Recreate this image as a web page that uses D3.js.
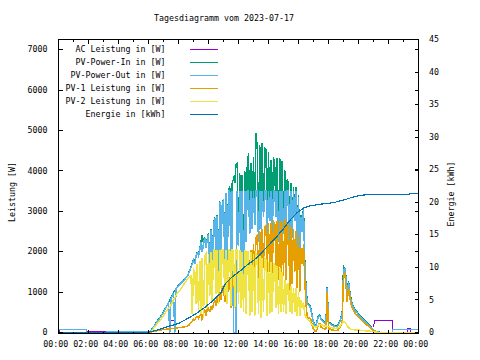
<!DOCTYPE html>
<html><head><meta charset="utf-8">
<script src="https://cdn.jsdelivr.net/npm/d3@7"></script>
<style>body{margin:0;background:#fff}text{font-family:"DejaVu Sans Mono",monospace;font-size:8.3px}</style>
</head><body>
<script>
// ---------- DATA ----------
const title = "Tagesdiagramm vom 2023-07-17";
const seriesNames = ["AC Leistung in [W]","PV-Power-In in [W]","PV-Power-Out in [W]","PV-1 Leistung in [W]","PV-2 Leistung in [W]","Energie in [kWh]"];
const seriesColors = ["#9400d3","#009e73","#56b4e9","#e69f00","#f0e442","#0072b2"];
const xTickLabels = ["00:00","02:00","04:00","06:00","08:00","10:00","12:00","14:00","16:00","18:00","20:00","22:00","00:00"];
const y1Ticks = [0,1000,2000,3000,4000,5000,6000,7000];
const y2Ticks = [0,5,10,15,20,25,30,35,40,45];

// day samples: every 5 minutes from 06:00 to 21:40 (12 per hour)
const dayStart = 6, dayStepMin = 5;

const pvInDay = [
 10,25,55,95,140,185,235,285,325,365,415,455,
 505,565,625,685,745,805,855,915,985,1035,1085,1125,
 1165,1205,1235,1265,1295,1325,1360,1400,1460,1540,1620,1720,
 1800,1750,1900,1980,1950,2050,2250,2420,2200,2350,2150,2300,
 2450,1500,2550,1400,2650,2850,1700,2900,1500,3250,2000,3150,
 3300,1800,3450,1600,3550,3600,1400,3700,3800,3700,4150,4180,
 2200,3950,1900,3900,1300,4000,2300,4100,4430,2500,4200,2600,
 4350,2700,4930,4600,2300,4650,2600,4680,2900,4560,4520,2400,
 4470,2800,4270,2500,4350,4100,2900,4310,2300,4310,2700,4250,
 2500,4020,2600,3770,3730,2100,3690,2400,3600,2800,3600,2200,
 3400,1800,2900,2550,3110,1800,1150,750,700,680,590,400,
 260,190,170,300,420,430,350,320,280,260,290,1120,
 260,240,210,200,190,170,160,180,210,270,380,530,
 1630,1580,1380,950,1280,1030,830,700,640,580,540,500,
 460,430,390,360,330,300,270,240,210,180,140,100,
 70,45,30,20,10,5,0,0,0];

const pvOutDay = [
 15,15,45,85,130,175,225,275,315,355,405,445,
 495,555,615,675,735,0,845,905,975,0,1075,1115,
 1155,1195,1225,1255,1285,1315,1350,1390,1450,1530,1610,1700,
 1790,1700,1890,1970,1900,2040,2240,2000,2190,2340,2100,2290,
 2440,1450,2540,1380,2630,2840,1650,2890,1450,3240,1950,3140,
 3290,1750,3440,1550,3500,3510,1350,3510,0,0,0,3510,
 2150,3510,1850,3510,1050,3510,2250,3510,3510,2450,3510,2550,
 3510,2650,3510,3510,2250,3510,2550,3510,2850,3510,3510,2350,
 3510,2750,3510,2450,3510,3510,2850,3510,2250,3510,2650,3510,
 2450,3510,2550,3510,3510,2050,3510,2350,3510,2750,3500,2150,
 3350,1750,2850,2500,3050,1750,1100,720,680,650,560,380,
 240,170,150,280,400,410,330,300,260,240,270,1090,
 240,220,190,180,170,150,140,160,190,250,350,500,
 1500,1600,1350,900,1250,1000,800,680,620,560,520,480,
 440,410,370,340,310,280,250,220,190,160,120,90,
 60,40,25,15,8,3,0,0,0];

const pv1Day = [
 0,5,10,20,25,30,40,45,50,55,60,70,
 75,78,80,83,86,90,93,96,100,104,108,112,
 118,122,126,130,135,140,146,152,170,210,240,270,
 330,300,370,390,350,420,450,300,500,550,400,580,
 600,500,650,550,700,800,650,900,700,1000,800,1100,
 1150,750,1250,800,1300,1350,600,1400,1450,900,1500,1500,
 900,1600,1000,1650,900,1750,1100,1850,1960,1200,2050,1300,
 2200,1400,2350,2400,1300,2500,1500,2550,1600,2600,2650,1400,
 2700,1500,2700,1400,2750,2700,1600,2750,1300,2750,1500,2750,
 1400,2800,1300,2700,2650,1000,2600,1200,2550,1500,2500,1100,
 2400,1000,2100,1700,2200,1300,700,380,360,350,320,170,
 80,40,20,90,210,220,130,110,100,80,100,1000,
 90,90,70,60,60,50,40,50,70,120,170,300,
 1400,1480,1150,750,1100,900,700,610,550,490,450,420,
 380,350,320,290,260,240,205,180,155,130,100,70,
 45,30,15,8,3,0,0,0,0];

const pv2Day = [
 0,10,30,60,100,140,180,220,260,290,330,370,
 410,460,510,560,600,640,680,740,800,860,920,970,
 1000,1040,1080,1130,1180,1230,1270,1320,1350,1380,1400,450,
 1550,1500,700,1700,500,1780,450,1850,350,1900,1950,600,
 1950,900,2000,750,2050,2050,950,2050,700,2050,1100,2050,
 2050,900,2050,700,2050,2050,650,2050,2000,600,2050,2050,
 700,2050,600,2000,500,2050,450,2000,2000,400,1980,500,
 1950,400,1950,1900,450,1900,350,1850,500,1850,1800,400,
 1750,450,1750,500,1700,1700,600,1650,450,1600,500,1500,
 500,1300,450,1200,1200,500,1150,450,1100,500,1100,400,
 1000,400,800,600,750,450,380,350,320,280,230,200,
 160,150,130,160,190,200,200,180,160,160,170,150,
 150,130,120,115,110,105,100,110,120,150,200,240,
 270,250,220,160,120,100,80,75,70,65,62,60,
 60,55,52,50,47,45,42,38,34,30,25,22,
 20,15,10,6,3,0,0,0,0];

// night parts [hour, W]
const pvOutNightBefore = [[0,0],[0.02,80],[1.87,80],[1.88,0],[3.2,0],[3.22,20],[5.95,20]];
const pvOutNightAfter  = [[21.75,0],[22.25,0],[22.26,80],[24,80]];
const zeroNightBefore  = [[0,0],[5.95,0]];
const zeroNightAfter   = [[21.75,0],[24,0]];
// AC Leistung: only visible pieces (null = not drawn)
const acPoints = [[0,290],[0.05,0],[1.87,0],[1.88,25],[3.2,25],[3.21,0],[6,0],null,
  [7.42,285],[7.72,285],null,
  [21.0,130],[21.07,285],[22.25,285],[22.27,0],[23.24,0],[23.25,100],[23.47,100],[23.48,0],[24,0]];
// Energie [hour, kWh]
const energyPoints = [[0,0],[6.0,0.05],[6.5,0.3],[7.0,0.7],[7.5,1.05],[8.0,1.4],[8.5,2.0],[8.8,2.4],
  [9.3,3.1],[9.8,3.95],[10.3,4.9],[10.8,6.0],[11.13,7.5],[11.25,7.8],[11.6,8.6],[11.91,9.1],
  [12.3,9.8],[12.58,10.4],[13.02,11.1],[13.4,11.9],[13.8,12.9],[14.35,14.2],[14.91,15.7],
  [15.47,17.35],[15.91,18.4],[16.35,19.1],[16.75,19.45],[17.47,19.7],[18.35,19.95],[19.02,20.35],
  [19.5,20.7],[19.91,20.95],[20.3,21.1],[20.69,21.22],[23.38,21.22],[23.42,21.38],[24,21.38]];

// ---------- CHART ----------
const dayHours = pvInDay.map((_, i) => dayStart + i * dayStepMin / 60);
const withDay = (before, vals, after) => before.concat(vals.map((v, i) => [dayHours[i], v])).concat(after);

const series = [
  acPoints,
  withDay(zeroNightBefore, pvInDay, zeroNightAfter),
  withDay(pvOutNightBefore, pvOutDay, pvOutNightAfter),
  withDay(zeroNightBefore, pv1Day, zeroNightAfter),
  withDay(zeroNightBefore, pv2Day, zeroNightAfter)
];
const widths = [1, 1.5, 1.5, 1.5, 1.5];

const svg = d3.select("body").append("svg").attr("width",480).attr("height",360);
svg.append("rect").attr("width",480).attr("height",360).attr("fill","#fff");

const x = d3.scaleLinear().domain([0,24]).range([58.5,418.5]);
const y = d3.scaleLinear().domain([0,7250]).range([332.5,39.5]);
const y2 = d3.scaleLinear().domain([0,45]).range([332.5,39.5]);

const line = d3.line().defined(d => d != null).x(d => x(d[0])).y(d => y(d[1]));
const line2 = d3.line().x(d => x(d[0])).y(d => y2(d[1]));

const gData = svg.append("g").attr("shape-rendering","crispEdges").attr("fill","none");
series.forEach((s, k) => {
  gData.append("path").attr("d", line(s)).attr("stroke", seriesColors[k]).attr("stroke-width", widths[k]);
});
gData.append("path").attr("d", line2(energyPoints)).attr("stroke", seriesColors[5]).attr("stroke-width", 1.2);

// frame
svg.append("rect").attr("x",58.5).attr("y",39.5).attr("width",360).attr("height",294)
  .attr("fill","none").attr("stroke","#000").attr("shape-rendering","crispEdges");

function styleAxis(g){ g.select(".domain").remove(); g.attr("color","#000").attr("shape-rendering","crispEdges");
  g.selectAll("text").attr("font-family",null).attr("font-size",null); }

svg.append("g").attr("transform","translate(0,333.5)")
  .call(d3.axisBottom(x).tickValues(d3.range(0,25,2)).tickSize(-4).tickSizeOuter(0).tickPadding(7.5).offset(0)
    .tickFormat((d,i) => xTickLabels[i])).call(styleAxis)
  .selectAll("text").attr("dx",-2.7);
svg.append("g").attr("transform","translate(0,333.5)")
  .call(d3.axisBottom(x).tickValues(d3.range(1,24,2)).tickSize(-2).tickSizeOuter(0).offset(0).tickFormat("")).call(styleAxis);
svg.append("g").attr("transform","translate(0,39.5)")
  .call(d3.axisTop(x).tickValues(d3.range(0,25,2)).tickSize(-4).tickSizeOuter(0).offset(0).tickFormat("")).call(styleAxis);
svg.append("g").attr("transform","translate(0,39.5)")
  .call(d3.axisTop(x).tickValues(d3.range(1,24,2)).tickSize(-2).tickSizeOuter(0).offset(0).tickFormat("")).call(styleAxis);
svg.append("g").attr("transform","translate(58.5,0)")
  .call(d3.axisLeft(y).tickValues(y1Ticks).tickSize(-4).tickSizeOuter(0).tickPadding(11).offset(0).tickFormat(d3.format("d"))).call(styleAxis);
svg.append("g").attr("transform","translate(418.5,0)")
  .call(d3.axisRight(y).tickValues(y1Ticks).tickSize(-4).tickSizeOuter(0).offset(0).tickFormat("")).call(styleAxis);
svg.append("g").attr("transform","translate(418.5,0)")
  .call(d3.axisRight(y2).tickValues(y2Ticks).tickSize(-4).tickSizeOuter(0).tickPadding(10.5).offset(0).tickFormat(d3.format("d"))).call(styleAxis);

// title & axis labels
svg.append("text").attr("x",224).attr("y",20.5).attr("text-anchor","middle").text(title);
svg.append("text").attr("transform","translate(14.5,192) rotate(-90)").attr("text-anchor","middle").text("Leistung [W]");
svg.append("text").attr("transform","translate(453.7,194) rotate(-90)").attr("text-anchor","middle").text("Energie [kWh]");

// legend
const legend = svg.append("g");
seriesNames.forEach((n, k) => {
  const yy = 49 + k * 12.95;
  legend.append("text").attr("x",165.5).attr("y",yy+3).attr("text-anchor","end").text(n);
  legend.append("line").attr("x1",190).attr("x2",218).attr("y1",Math.round(yy)+0.5).attr("y2",Math.round(yy)+0.5)
    .attr("stroke",seriesColors[k]).attr("stroke-width",1).attr("shape-rendering","crispEdges");
});
</script>
</body></html>
